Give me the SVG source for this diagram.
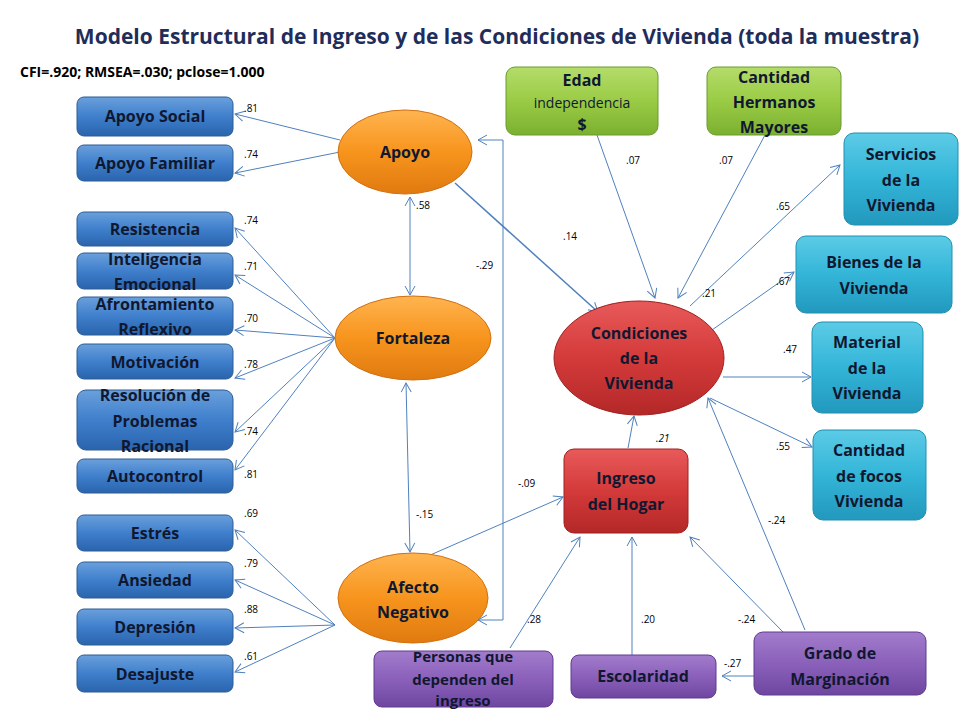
<svg xmlns="http://www.w3.org/2000/svg" width="960" height="720" viewBox="0 0 960 720">
<style>
text{font-family:"Open Sans","Liberation Sans",sans-serif;font-weight:bold;text-anchor:middle}
.n{font-size:16px;fill:#101830}
.w{font-size:15px;fill:#101830}
.l{font-size:10px;font-weight:normal;fill:#000;text-anchor:start}
.c line,.c polyline{stroke:#4f81bd;stroke-width:1;fill:none;marker-end:url(#a)}
.bi{marker-start:url(#s)}
.blue{fill:url(#gb);stroke:#2c5d94}
.or{fill:url(#go);stroke:#d07010}
.red{fill:url(#gr);stroke:#a02020}
.gr{fill:url(#gg);stroke:#6a9a30}
.cy{fill:url(#gc);stroke:#2090b0}
.pu{fill:url(#gp);stroke:#603a90}
</style>
<defs>
<marker id="a" markerWidth="12" markerHeight="12" refX="10" refY="6" orient="auto" markerUnits="userSpaceOnUse"><path d="M1,1 L10,6 L1,11" fill="none" stroke="#4f81bd"/></marker>
<marker id="s" markerWidth="12" markerHeight="12" refX="2" refY="6" orient="auto" markerUnits="userSpaceOnUse"><path d="M11,1 L2,6 L11,11" fill="none" stroke="#4f81bd"/></marker>
<linearGradient id="gb" x1="0" y1="0" x2="0" y2="1"><stop offset="0" stop-color="#6aa0dc"/><stop offset="0.5" stop-color="#3f7fcc"/><stop offset="1" stop-color="#2a64ad"/></linearGradient>
<linearGradient id="go" x1="0" y1="0" x2="0" y2="1"><stop offset="0" stop-color="#ffb450"/><stop offset="0.5" stop-color="#f7941d"/><stop offset="1" stop-color="#e07a10"/></linearGradient>
<linearGradient id="gr" x1="0" y1="0" x2="0" y2="1"><stop offset="0" stop-color="#e85a5a"/><stop offset="0.5" stop-color="#d43a3a"/><stop offset="1" stop-color="#b42828"/></linearGradient>
<linearGradient id="gg" x1="0" y1="0" x2="0" y2="1"><stop offset="0" stop-color="#b4dc6a"/><stop offset="0.5" stop-color="#9acb45"/><stop offset="1" stop-color="#7bb030"/></linearGradient>
<linearGradient id="gc" x1="0" y1="0" x2="0" y2="1"><stop offset="0" stop-color="#5ccbe6"/><stop offset="0.5" stop-color="#33b5d8"/><stop offset="1" stop-color="#2298bd"/></linearGradient>
<linearGradient id="gp" x1="0" y1="0" x2="0" y2="1"><stop offset="0" stop-color="#a27ccc"/><stop offset="0.5" stop-color="#8a60ba"/><stop offset="1" stop-color="#6e46a0"/></linearGradient>
</defs>
<rect width="960" height="720" fill="#fff"/>
<text x="497" y="44" style="font-size:21px;fill:#1f2d5a">Modelo Estructural de Ingreso y de las Condiciones de Vivienda (toda la muestra)</text>
<text x="20" y="77" style="font-size:14px;fill:#000;text-anchor:start">CFI=.920; RMSEA=.030; pclose=1.000</text>
<g class="c">
<line x1="340" y1="140" x2="235" y2="114"/>
<line x1="340" y1="152" x2="235" y2="173"/>
<line x1="335" y1="338" x2="235" y2="228"/>
<line x1="335" y1="338" x2="235" y2="275"/>
<line x1="335" y1="338" x2="235" y2="330"/>
<line x1="335" y1="338" x2="235" y2="378"/>
<line x1="335" y1="338" x2="235" y2="432"/>
<line x1="335" y1="338" x2="235" y2="470"/>
<line x1="335" y1="625" x2="235" y2="530"/>
<line x1="335" y1="625" x2="235" y2="580"/>
<line x1="335" y1="625" x2="235" y2="628"/>
<line x1="335" y1="625" x2="235" y2="672"/>
<line class="bi" x1="410" y1="197" x2="410" y2="295"/>
<line class="bi" x1="406" y1="383" x2="410" y2="552"/>
<polyline class="bi" points="478,620 503,620 503,140 478,140"/>
<line x1="455" y1="183" x2="598" y2="312" style="stroke-width:1.5"/>
<line x1="428" y1="556" x2="563" y2="497"/>
<line x1="597" y1="135" x2="655" y2="298"/>
<line x1="765" y1="135" x2="678" y2="298"/>
<line x1="628" y1="448" x2="634" y2="416"/>
<line x1="690" y1="306" x2="840" y2="165"/>
<line x1="712" y1="330" x2="794" y2="272"/>
<line x1="723" y1="377" x2="811" y2="377"/>
<line x1="710" y1="398" x2="812" y2="447"/>
<line x1="510" y1="648" x2="580" y2="537"/>
<line x1="632" y1="668" x2="632" y2="537"/>
<line x1="783" y1="632" x2="690" y2="537"/>
<line x1="805" y1="630" x2="708" y2="398"/>
<line x1="755" y1="676" x2="722" y2="676"/>
</g>
<g class="lab">
<text class="l" x="244" y="112">.81</text><text class="l" x="244" y="158">.74</text>
<text class="l" x="244" y="224">.74</text><text class="l" x="244" y="270">.71</text>
<text class="l" x="244" y="322">.70</text><text class="l" x="244" y="368">.78</text>
<text class="l" x="244" y="435">.74</text><text class="l" x="244" y="478">.81</text>
<text class="l" x="244" y="517">.69</text><text class="l" x="244" y="567">.79</text>
<text class="l" x="244" y="613">.88</text><text class="l" x="244" y="660">.61</text>
<text class="l" x="416" y="209">.58</text><text class="l" x="416" y="518">-.15</text>
<text class="l" x="476" y="269">-.29</text><text class="l" x="563" y="240">.14</text>
<text class="l" x="518" y="487">-.09</text><text class="l" x="626" y="164">.07</text>
<text class="l" x="719" y="164">.07</text><text class="l" x="702" y="297">.21</text>
<text class="l" x="656" y="442" style="font-style:italic">.21</text>
<text class="l" x="776" y="210">.65</text><text class="l" x="776" y="285">.67</text>
<text class="l" x="783" y="353">.47</text><text class="l" x="776" y="450">.55</text>
<text class="l" x="768" y="524">-.24</text><text class="l" x="527" y="623">.28</text>
<text class="l" x="641" y="623">.20</text><text class="l" x="738" y="623">-.24</text>
<text class="l" x="724" y="667">-.27</text>
</g>
<g id="apoyo-social"><rect class="blue" x="77" y="97" width="156" height="39" rx="7"/><text class="n" x="155" y="122">Apoyo Social</text></g>
<g id="apoyo-familiar"><rect class="blue" x="77" y="145" width="156" height="36" rx="7"/><text class="n" x="155" y="169">Apoyo Familiar</text></g>
<g id="resistencia"><rect class="blue" x="77" y="212" width="156" height="34" rx="7"/><text class="n" x="155" y="235">Resistencia</text></g>
<g id="inteligencia"><rect class="blue" x="77" y="253" width="156" height="36" rx="7"/><text class="n" x="155" y="265">Inteligencia</text><text class="n" x="155" y="290">Emocional</text></g>
<g id="afrontamiento"><rect class="blue" x="77" y="297" width="156" height="38" rx="7"/><text class="n" x="155" y="310">Afrontamiento</text><text class="n" x="155" y="335">Reflexivo</text></g>
<g id="motivacion"><rect class="blue" x="77" y="344" width="156" height="35" rx="7"/><text class="n" x="155" y="368">Motivación</text></g>
<g id="resolucion"><rect class="blue" x="77" y="390" width="156" height="60" rx="9"/><text class="n" x="155" y="401">Resolución de</text><text class="n" x="155" y="427">Problemas</text><text class="n" x="155" y="452">Racional</text></g>
<g id="autocontrol"><rect class="blue" x="77" y="459" width="156" height="34" rx="7"/><text class="n" x="155" y="482">Autocontrol</text></g>
<g id="estres"><rect class="blue" x="77" y="515" width="156" height="36" rx="7"/><text class="n" x="155" y="539">Estrés</text></g>
<g id="ansiedad"><rect class="blue" x="77" y="562" width="156" height="36" rx="7"/><text class="n" x="155" y="586">Ansiedad</text></g>
<g id="depresion"><rect class="blue" x="77" y="609" width="156" height="36" rx="7"/><text class="n" x="155" y="633">Depresión</text></g>
<g id="desajuste"><rect class="blue" x="77" y="655" width="156" height="37" rx="7"/><text class="n" x="155" y="680">Desajuste</text></g>
<g id="apoyo"><ellipse class="or" cx="405" cy="152" rx="67" ry="42"/><text class="n" x="405" y="158">Apoyo</text></g>
<g id="fortaleza"><ellipse class="or" cx="413" cy="338" rx="78" ry="42"/><text class="n" x="413" y="344">Fortaleza</text></g>
<g id="afecto"><ellipse class="or" cx="413" cy="598" rx="75" ry="45"/><text class="n" x="413" y="593">Afecto</text><text class="n" x="413" y="618">Negativo</text></g>
<g id="condiciones"><ellipse class="red" cx="639" cy="358" rx="85" ry="57"/><text class="n" x="639" y="339">Condiciones</text><text class="n" x="639" y="364">de la</text><text class="n" x="639" y="389">Vivienda</text></g>
<g id="ingreso"><rect class="red" x="564" y="449" width="124" height="84" rx="10"/><text class="n" x="626" y="484">Ingreso</text><text class="n" x="626" y="510">del Hogar</text></g>
<g id="edad"><rect class="gr" x="506" y="67" width="152" height="68" rx="9"/><text class="n" x="582" y="86">Edad</text><text class="w" x="582" y="108" style="font-weight:normal;font-size:14px">independencia</text><text class="n" x="582" y="130">$</text></g>
<g id="hermanos"><rect class="gr" x="707" y="67" width="134" height="68" rx="9"/><text class="n" x="774" y="83">Cantidad</text><text class="n" x="774" y="108">Hermanos</text><text class="n" x="774" y="133">Mayores</text></g>
<g id="servicios"><rect class="cy" x="844" y="133" width="114" height="92" rx="10"/><text class="n" x="901" y="160">Servicios</text><text class="n" x="901" y="186">de la</text><text class="n" x="901" y="211">Vivienda</text></g>
<g id="bienes"><rect class="cy" x="796" y="236" width="156" height="77" rx="10"/><text class="n" x="874" y="268">Bienes  de la</text><text class="n" x="874" y="294">Vivienda</text></g>
<g id="material"><rect class="cy" x="812" y="322" width="111" height="91" rx="10"/><text class="n" x="867" y="348">Material</text><text class="n" x="867" y="374">de la</text><text class="n" x="867" y="399">Vivienda</text></g>
<g id="focos"><rect class="cy" x="813" y="430" width="113" height="90" rx="10"/><text class="n" x="869" y="456">Cantidad</text><text class="n" x="869" y="482">de focos</text><text class="n" x="869" y="507">Vivienda</text></g>
<g id="personas"><rect class="pu" x="374" y="651" width="179" height="56" rx="8"/><text class="w" x="463" y="662">Personas que</text><text class="w" x="463" y="685">dependen del</text><text class="w" x="463" y="706">ingreso</text></g>
<g id="escolaridad"><rect class="pu" x="571" y="655" width="145" height="43" rx="8"/><text class="n" x="643" y="682">Escolaridad</text></g>
<g id="grado"><rect class="pu" x="754" y="632" width="172" height="63" rx="9"/><text class="n" x="840" y="659">Grado de</text><text class="n" x="840" y="685">Marginación</text></g>
</svg>
